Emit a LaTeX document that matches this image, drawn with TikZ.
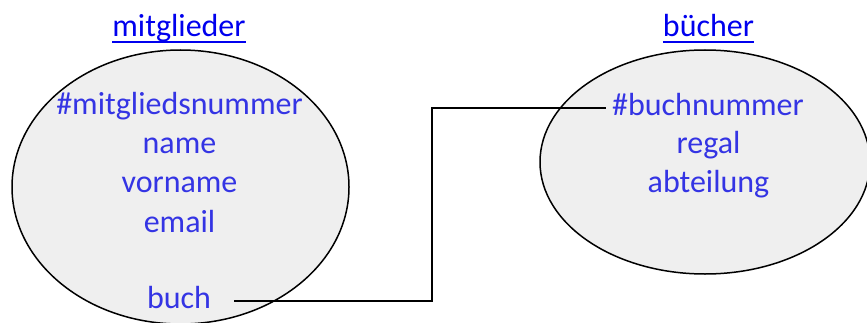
\documentclass[tikz,border=0pt]{standalone}
\usepackage{fontspec}
\setmainfont{Carlito}
\usetikzlibrary{shapes.geometric,calc}
\definecolor{attrblue}{RGB}{52,52,228}
\definecolor{titleblue}{RGB}{0,0,238}
\definecolor{entfill}{RGB}{239,239,239}
\tikzset{
  entity/.style={ellipse, draw=black, line width=1.5pt, fill=entfill, inner sep=0pt},
  attr/.style={font=\fontsize{32}{39}\selectfont, text=attrblue, inner sep=0pt, anchor=base, text height=14.5pt, text depth=0pt},
  titl/.style={font=\fontsize{32}{39}\selectfont, text=titleblue, inner sep=0pt, anchor=base},
  ul/.style={draw=titleblue, line width=2pt},
  link/.style={draw=black, line width=1.8pt}
}
\begin{document}
\begin{tikzpicture}[x=1pt,y=1pt]
\useasboundingbox (0,0) rectangle (867,322);
\clip (0,0) rectangle (867,322);
% entities
\node[entity, minimum width=337pt, minimum height=274pt] (mitE) at (180.5,135) {};
\node[entity, minimum width=330pt, minimum height=224pt] (buchE) at (705,160) {};
% titles
\node[titl] (t1) at (179,285) {mitglieder};
\node[titl] (t2) at (708.5,285) {bücher};
\draw[ul] ([yshift=-5pt]t1.base west) -- ([yshift=-5pt]t1.base east);
\draw[ul] ([yshift=-5pt]t2.base west) -- ([yshift=-5pt]t2.base east);
% attributes of mitglieder
\node[attr] (mnr) at (179.5,208) {\#mitgliedsnummer};
\node[attr] (mname) at (179.5,169) {name};
\node[attr] (mvor) at (179.5,129.5) {vorname};
\node[attr] (mmail) at (179.5,90) {email};
\node[attr] (mbuch) at (179,14) {buch};
% attributes of buecher
\node[attr] (bnr) at (708,207) {\#buchnummer};
\node[attr] (breg) at (708.5,169) {regal};
\node[attr] (babt) at (708.5,129.5) {abteilung};
% connector
\coordinate (j) at (432,0);
\coordinate (s) at ($(mbuch.east)+(23,0)$);
\coordinate (e) at ($(bnr.west)+(-6,0)$);
\draw[link] (s) -- (s -| j) -- (e -| j) -- (e);
\end{tikzpicture}
\end{document}
